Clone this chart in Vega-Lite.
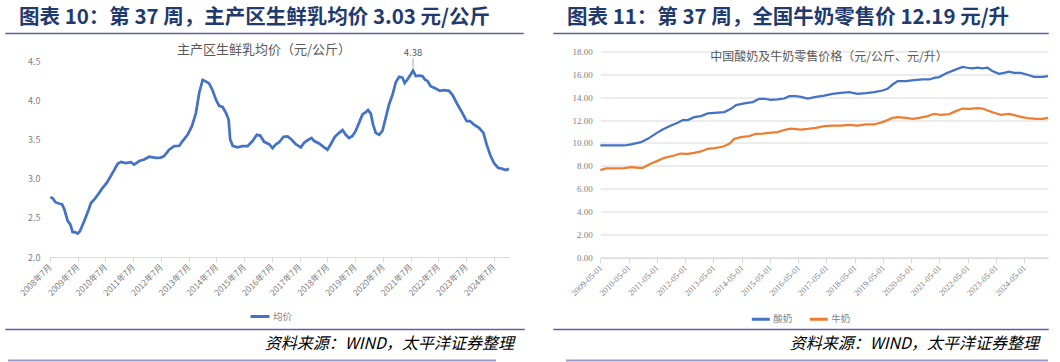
{
  "$schema": "https://vega.github.io/schema/vega-lite/v6.json",
  "padding": {"left": 5, "top": 6.5, "right": 0, "bottom": 0},
  "background": "white",
  "config": {
    "view": {"stroke": null},
    "font": "Noto Sans CJK SC",
    "axis": {"labelFont": "Noto Sans CJK SC", "labelColor": "#808080", "domainColor": "#D9D9D9", "tickColor": "#D9D9D9", "gridColor": "#D9D9D9", "title": null, "labelOverlap": false},
    "legend": {"labelFont": "Noto Sans CJK SC", "labelColor": "#7F7F7F", "labelFontSize": 9.5, "title": null}
  },
  "datasets": {
    "empty": [],
    "milk": [
      {"date": "2008-07-05", "price": 2.765}, {"date": "2008-08-06", "price": 2.75}, {"date": "2008-09-10", "price": 2.70},
      {"date": "2008-11-01", "price": 2.68}, {"date": "2008-12-06", "price": 2.675}, {"date": "2009-01-06", "price": 2.61},
      {"date": "2009-02-20", "price": 2.46}, {"date": "2009-03-24", "price": 2.42}, {"date": "2009-04-25", "price": 2.32},
      {"date": "2009-05-25", "price": 2.32}, {"date": "2009-06-30", "price": 2.30}, {"date": "2009-07-30", "price": 2.33},
      {"date": "2009-09-25", "price": 2.46}, {"date": "2009-11-17", "price": 2.59}, {"date": "2009-12-22", "price": 2.69},
      {"date": "2010-02-05", "price": 2.735}, {"date": "2010-03-19", "price": 2.79}, {"date": "2010-05-15", "price": 2.87},
      {"date": "2010-07-20", "price": 2.95}, {"date": "2010-10-04", "price": 3.075}, {"date": "2010-12-09", "price": 3.19},
      {"date": "2011-01-22", "price": 3.215}, {"date": "2011-03-27", "price": 3.20}, {"date": "2011-06-01", "price": 3.21},
      {"date": "2011-07-14", "price": 3.18}, {"date": "2011-09-19", "price": 3.225}, {"date": "2011-11-24", "price": 3.245},
      {"date": "2012-01-29", "price": 3.28}, {"date": "2012-04-26", "price": 3.265}, {"date": "2012-07-01", "price": 3.27},
      {"date": "2012-08-13", "price": 3.29}, {"date": "2012-10-18", "price": 3.37}, {"date": "2012-12-23", "price": 3.415},
      {"date": "2013-02-28", "price": 3.42}, {"date": "2013-04-12", "price": 3.48}, {"date": "2013-06-17", "price": 3.56},
      {"date": "2013-08-13", "price": 3.67}, {"date": "2013-10-05", "price": 3.84}, {"date": "2013-11-18", "price": 4.10},
      {"date": "2014-01-02", "price": 4.26}, {"date": "2014-02-05", "price": 4.245}, {"date": "2014-03-27", "price": 4.215},
      {"date": "2014-05-11", "price": 4.13}, {"date": "2014-06-24", "price": 4.01}, {"date": "2014-08-07", "price": 3.93},
      {"date": "2014-09-21", "price": 3.915}, {"date": "2014-11-04", "price": 3.84}, {"date": "2014-12-09", "price": 3.755},
      {"date": "2014-12-30", "price": 3.50}, {"date": "2015-02-01", "price": 3.42}, {"date": "2015-04-06", "price": 3.40},
      {"date": "2015-06-11", "price": 3.415}, {"date": "2015-08-16", "price": 3.415}, {"date": "2015-10-20", "price": 3.48},
      {"date": "2015-12-16", "price": 3.56}, {"date": "2016-01-29", "price": 3.55}, {"date": "2016-03-21", "price": 3.47},
      {"date": "2016-05-26", "price": 3.44}, {"date": "2016-07-10", "price": 3.39}, {"date": "2016-08-23", "price": 3.44},
      {"date": "2016-10-05", "price": 3.465}, {"date": "2016-12-02", "price": 3.535}, {"date": "2017-01-24", "price": 3.54},
      {"date": "2017-03-16", "price": 3.50}, {"date": "2017-05-12", "price": 3.44}, {"date": "2017-07-17", "price": 3.40},
      {"date": "2017-08-30", "price": 3.46}, {"date": "2017-10-14", "price": 3.49}, {"date": "2017-12-06", "price": 3.52},
      {"date": "2018-01-10", "price": 3.48}, {"date": "2018-03-15", "price": 3.45}, {"date": "2018-05-12", "price": 3.405},
      {"date": "2018-07-03", "price": 3.37}, {"date": "2018-08-16", "price": 3.44}, {"date": "2018-10-08", "price": 3.535},
      {"date": "2018-12-04", "price": 3.585}, {"date": "2019-01-18", "price": 3.62}, {"date": "2019-03-01", "price": 3.56},
      {"date": "2019-04-13", "price": 3.52}, {"date": "2019-05-28", "price": 3.545}, {"date": "2019-07-10", "price": 3.61},
      {"date": "2019-08-23", "price": 3.71}, {"date": "2019-10-07", "price": 3.82}, {"date": "2019-11-20", "price": 3.85},
      {"date": "2019-12-20", "price": 3.875}, {"date": "2020-01-25", "price": 3.83}, {"date": "2020-02-24", "price": 3.69},
      {"date": "2020-03-30", "price": 3.585}, {"date": "2020-05-12", "price": 3.56}, {"date": "2020-06-26", "price": 3.61},
      {"date": "2020-08-09", "price": 3.78}, {"date": "2020-09-22", "price": 3.95}, {"date": "2020-11-06", "price": 4.07},
      {"date": "2020-12-19", "price": 4.23}, {"date": "2021-02-01", "price": 4.30}, {"date": "2021-03-16", "price": 4.29},
      {"date": "2021-04-15", "price": 4.22}, {"date": "2021-05-21", "price": 4.265}, {"date": "2021-07-03", "price": 4.33},
      {"date": "2021-08-03", "price": 4.38}, {"date": "2021-09-08", "price": 4.31}, {"date": "2021-10-21", "price": 4.315},
      {"date": "2021-12-05", "price": 4.31}, {"date": "2022-01-05", "price": 4.265}, {"date": "2022-02-10", "price": 4.245},
      {"date": "2022-03-23", "price": 4.18}, {"date": "2022-05-28", "price": 4.15}, {"date": "2022-07-24", "price": 4.12},
      {"date": "2022-09-15", "price": 4.13}, {"date": "2022-11-20", "price": 4.12}, {"date": "2023-01-04", "price": 4.07},
      {"date": "2023-03-10", "price": 3.95}, {"date": "2023-05-14", "price": 3.84}, {"date": "2023-07-10", "price": 3.735},
      {"date": "2023-08-23", "price": 3.735}, {"date": "2023-10-15", "price": 3.69}, {"date": "2023-12-20", "price": 3.65},
      {"date": "2024-02-16", "price": 3.585}, {"date": "2024-03-30", "price": 3.435}, {"date": "2024-05-21", "price": 3.29},
      {"date": "2024-07-04", "price": 3.20}, {"date": "2024-08-26", "price": 3.14}, {"date": "2024-10-23", "price": 3.125},
      {"date": "2024-12-06", "price": 3.11}, {"date": "2025-01-18", "price": 3.125}
    ],
    "retail": [
      {"date": "2009-05-01", "kind": "酸奶", "price": 9.78}, {"date": "2009-09-17", "kind": "酸奶", "price": 9.78},
      {"date": "2010-03-07", "kind": "酸奶", "price": 9.78}, {"date": "2010-06-02", "kind": "酸奶", "price": 9.87},
      {"date": "2010-10-09", "kind": "酸奶", "price": 10.07}, {"date": "2011-01-04", "kind": "酸奶", "price": 10.36},
      {"date": "2011-05-03", "kind": "酸奶", "price": 10.88}, {"date": "2011-07-16", "kind": "酸奶", "price": 11.17},
      {"date": "2011-11-01", "kind": "酸奶", "price": 11.52}, {"date": "2012-01-27", "kind": "酸奶", "price": 11.76},
      {"date": "2012-03-31", "kind": "酸奶", "price": 11.99}, {"date": "2012-06-04", "kind": "酸奶", "price": 11.99},
      {"date": "2012-08-28", "kind": "酸奶", "price": 12.25}, {"date": "2012-11-23", "kind": "酸奶", "price": 12.34},
      {"date": "2013-02-18", "kind": "酸奶", "price": 12.57}, {"date": "2013-05-13", "kind": "酸奶", "price": 12.63},
      {"date": "2013-09-20", "kind": "酸奶", "price": 12.69}, {"date": "2013-12-16", "kind": "酸奶", "price": 12.97},
      {"date": "2014-02-19", "kind": "酸奶", "price": 13.30}, {"date": "2014-06-05", "kind": "酸奶", "price": 13.44},
      {"date": "2014-09-22", "kind": "酸奶", "price": 13.56}, {"date": "2014-12-16", "kind": "酸奶", "price": 13.85},
      {"date": "2015-02-19", "kind": "酸奶", "price": 13.85}, {"date": "2015-05-15", "kind": "酸奶", "price": 13.76},
      {"date": "2015-08-10", "kind": "酸奶", "price": 13.79}, {"date": "2015-11-04", "kind": "酸奶", "price": 13.87},
      {"date": "2016-01-08", "kind": "酸奶", "price": 14.08}, {"date": "2016-04-03", "kind": "酸奶", "price": 14.08},
      {"date": "2016-06-07", "kind": "酸奶", "price": 14.02}, {"date": "2016-09-02", "kind": "酸奶", "price": 13.87},
      {"date": "2016-12-18", "kind": "酸奶", "price": 14.02}, {"date": "2017-04-04", "kind": "酸奶", "price": 14.13},
      {"date": "2017-07-21", "kind": "酸奶", "price": 14.28}, {"date": "2017-11-06", "kind": "酸奶", "price": 14.37},
      {"date": "2018-02-22", "kind": "酸奶", "price": 14.43}, {"date": "2018-06-09", "kind": "酸奶", "price": 14.28},
      {"date": "2018-09-25", "kind": "酸奶", "price": 14.34}, {"date": "2019-01-10", "kind": "酸奶", "price": 14.43},
      {"date": "2019-04-27", "kind": "酸奶", "price": 14.57}, {"date": "2019-07-01", "kind": "酸奶", "price": 14.72},
      {"date": "2019-09-05", "kind": "酸奶", "price": 15.09}, {"date": "2019-11-09", "kind": "酸奶", "price": 15.39},
      {"date": "2020-02-24", "kind": "酸奶", "price": 15.39}, {"date": "2020-06-10", "kind": "酸奶", "price": 15.47},
      {"date": "2020-09-27", "kind": "酸奶", "price": 15.53}, {"date": "2020-12-21", "kind": "酸奶", "price": 15.53},
      {"date": "2021-02-24", "kind": "酸奶", "price": 15.67}, {"date": "2021-04-29", "kind": "酸奶", "price": 15.74},
      {"date": "2021-07-24", "kind": "酸奶", "price": 16.05}, {"date": "2021-11-09", "kind": "酸奶", "price": 16.34},
      {"date": "2022-02-26", "kind": "酸奶", "price": 16.63}, {"date": "2022-05-01", "kind": "酸奶", "price": 16.55},
      {"date": "2022-07-04", "kind": "酸奶", "price": 16.49}, {"date": "2022-09-07", "kind": "酸奶", "price": 16.57},
      {"date": "2022-11-11", "kind": "酸奶", "price": 16.49}, {"date": "2023-01-15", "kind": "酸奶", "price": 16.55},
      {"date": "2023-03-18", "kind": "酸奶", "price": 16.26}, {"date": "2023-06-12", "kind": "酸奶", "price": 16.02},
      {"date": "2023-08-16", "kind": "酸奶", "price": 16.11}, {"date": "2023-10-20", "kind": "酸奶", "price": 16.20},
      {"date": "2023-12-23", "kind": "酸奶", "price": 16.11}, {"date": "2024-03-19", "kind": "酸奶", "price": 16.11},
      {"date": "2024-06-14", "kind": "酸奶", "price": 15.94}, {"date": "2024-09-08", "kind": "酸奶", "price": 15.76},
      {"date": "2024-12-25", "kind": "酸奶", "price": 15.76}, {"date": "2025-03-06", "kind": "酸奶", "price": 15.82},
      {"date": "2009-05-01", "kind": "牛奶", "price": 7.64}, {"date": "2009-07-14", "kind": "牛奶", "price": 7.78},
      {"date": "2009-10-29", "kind": "牛奶", "price": 7.78}, {"date": "2010-03-07", "kind": "牛奶", "price": 7.81},
      {"date": "2010-06-02", "kind": "牛奶", "price": 7.90}, {"date": "2010-09-18", "kind": "牛奶", "price": 7.84},
      {"date": "2010-11-01", "kind": "牛奶", "price": 7.84}, {"date": "2011-02-16", "kind": "牛奶", "price": 8.21},
      {"date": "2011-05-03", "kind": "牛奶", "price": 8.42}, {"date": "2011-08-06", "kind": "牛奶", "price": 8.71},
      {"date": "2011-12-13", "kind": "牛奶", "price": 8.91}, {"date": "2012-02-29", "kind": "牛奶", "price": 9.08},
      {"date": "2012-06-04", "kind": "牛奶", "price": 9.06}, {"date": "2012-08-28", "kind": "牛奶", "price": 9.14},
      {"date": "2012-11-23", "kind": "牛奶", "price": 9.26}, {"date": "2013-02-18", "kind": "牛奶", "price": 9.49},
      {"date": "2013-05-13", "kind": "牛奶", "price": 9.55}, {"date": "2013-08-30", "kind": "牛奶", "price": 9.67},
      {"date": "2013-11-24", "kind": "牛奶", "price": 9.93}, {"date": "2014-01-27", "kind": "牛奶", "price": 10.36},
      {"date": "2014-04-23", "kind": "牛奶", "price": 10.51}, {"date": "2014-08-08", "kind": "牛奶", "price": 10.60},
      {"date": "2014-11-04", "kind": "牛奶", "price": 10.80}, {"date": "2015-01-29", "kind": "牛奶", "price": 10.82},
      {"date": "2015-04-23", "kind": "牛奶", "price": 10.88}, {"date": "2015-08-10", "kind": "牛奶", "price": 10.95},
      {"date": "2015-11-26", "kind": "牛奶", "price": 11.17}, {"date": "2016-01-30", "kind": "牛奶", "price": 11.24},
      {"date": "2016-06-07", "kind": "牛奶", "price": 11.17}, {"date": "2016-09-02", "kind": "牛奶", "price": 11.23},
      {"date": "2016-12-18", "kind": "牛奶", "price": 11.32}, {"date": "2017-04-04", "kind": "牛奶", "price": 11.47},
      {"date": "2017-07-21", "kind": "牛奶", "price": 11.52}, {"date": "2017-11-06", "kind": "牛奶", "price": 11.52},
      {"date": "2018-02-22", "kind": "牛奶", "price": 11.58}, {"date": "2018-06-09", "kind": "牛奶", "price": 11.52},
      {"date": "2018-09-25", "kind": "牛奶", "price": 11.61}, {"date": "2019-01-10", "kind": "牛奶", "price": 11.61},
      {"date": "2019-04-27", "kind": "牛奶", "price": 11.82}, {"date": "2019-07-01", "kind": "牛奶", "price": 11.99},
      {"date": "2019-09-05", "kind": "牛奶", "price": 12.19}, {"date": "2019-11-09", "kind": "牛奶", "price": 12.25},
      {"date": "2020-02-24", "kind": "牛奶", "price": 12.19}, {"date": "2020-05-20", "kind": "牛奶", "price": 12.10},
      {"date": "2020-08-14", "kind": "牛奶", "price": 12.19}, {"date": "2020-11-30", "kind": "牛奶", "price": 12.34},
      {"date": "2021-02-24", "kind": "牛奶", "price": 12.54}, {"date": "2021-05-20", "kind": "牛奶", "price": 12.45},
      {"date": "2021-09-05", "kind": "牛奶", "price": 12.51}, {"date": "2021-12-01", "kind": "牛奶", "price": 12.77},
      {"date": "2022-02-26", "kind": "牛奶", "price": 13.00}, {"date": "2022-05-20", "kind": "牛奶", "price": 12.97},
      {"date": "2022-09-07", "kind": "牛奶", "price": 13.04}, {"date": "2022-11-11", "kind": "牛奶", "price": 13.00},
      {"date": "2023-01-15", "kind": "牛奶", "price": 12.83}, {"date": "2023-04-08", "kind": "牛奶", "price": 12.63},
      {"date": "2023-07-04", "kind": "牛奶", "price": 12.45}, {"date": "2023-10-20", "kind": "牛奶", "price": 12.54},
      {"date": "2023-12-23", "kind": "牛奶", "price": 12.43}, {"date": "2024-03-19", "kind": "牛奶", "price": 12.28},
      {"date": "2024-06-14", "kind": "牛奶", "price": 12.17}, {"date": "2024-09-30", "kind": "牛奶", "price": 12.10},
      {"date": "2024-12-25", "kind": "牛奶", "price": 12.10}, {"date": "2025-03-06", "kind": "牛奶", "price": 12.19}
    ]
  },
  "columns": 2,
  "spacing": {"row": 0, "column": 30},
  "bounds": "flush",
  "align": "each",
  "resolve": {
    "scale": {"x": "independent", "y": "independent", "color": "independent"},
    "axis": {"x": "independent", "y": "independent"},
    "legend": {"color": "independent"}
  },
  "concat": [
    {"width": 517, "height": 0.01, "data": {"name": "empty"}, "mark": "text",
     "view": {"stroke": "#5F5F9F", "strokeWidth": 1.5},
     "title": {"text": "图表 10：第 37 周，主产区生鲜乳均价 3.03 元/公斤", "orient": "top", "anchor": "start", "frame": "group", "offset": -10.5, "baseline": "alphabetic", "dx": 13, "fontSize": 20.5, "fontWeight": "bold", "color": "#1F3A6E", "font": "Noto Sans CJK SC"}},
    {"width": 494, "height": 0.01, "data": {"name": "empty"}, "mark": "text",
     "view": {"stroke": "#5F5F9F", "strokeWidth": 1.5},
     "title": {"text": "图表 11：第 37 周，全国牛奶零售价 12.19 元/升", "orient": "top", "anchor": "start", "frame": "group", "offset": -10.5, "baseline": "alphabetic", "dx": 13, "fontSize": 20.5, "fontWeight": "bold", "color": "#1F3A6E", "font": "Noto Sans CJK SC"}},

    {"width": 518, "height": 222.6,
     "data": {"name": "milk"},
     "title": {"text": "主产区生鲜乳均价（元/公斤）", "orient": "top", "anchor": "middle", "frame": "group", "offset": -32.3, "baseline": "alphabetic", "dx": -1, "fontSize": 13, "fontWeight": "normal", "color": "#595959", "font": "Noto Sans CJK SC"},
     "encoding": {
       "x": {"field": "date", "type": "temporal",
             "scale": {"type": "utc", "range": [44, 503], "domain": [{"year": 2008, "month": 7, "date": 1, "utc": true}, {"year": 2025, "month": 1, "date": 18, "utc": true}]},
             "axis": {"values": [
               {"year": 2008, "month": 7, "date": 1, "utc": true}, {"year": 2009, "month": 7, "date": 1, "utc": true},
               {"year": 2010, "month": 7, "date": 1, "utc": true}, {"year": 2011, "month": 7, "date": 1, "utc": true},
               {"year": 2012, "month": 7, "date": 1, "utc": true}, {"year": 2013, "month": 7, "date": 1, "utc": true},
               {"year": 2014, "month": 7, "date": 1, "utc": true}, {"year": 2015, "month": 7, "date": 1, "utc": true},
               {"year": 2016, "month": 7, "date": 1, "utc": true}, {"year": 2017, "month": 7, "date": 1, "utc": true},
               {"year": 2018, "month": 7, "date": 1, "utc": true}, {"year": 2019, "month": 7, "date": 1, "utc": true},
               {"year": 2020, "month": 7, "date": 1, "utc": true}, {"year": 2021, "month": 7, "date": 1, "utc": true},
               {"year": 2022, "month": 7, "date": 1, "utc": true}, {"year": 2023, "month": 7, "date": 1, "utc": true},
               {"year": 2024, "month": 7, "date": 1, "utc": true}],
               "labelExpr": "utcFormat(datum.value, '%Y年%-m月')",
               "labelAngle": -45, "labelAlign": "right", "labelBaseline": "middle", "labelPadding": 3,
               "labelFontSize": 8.5, "tickSize": 5, "grid": false, "labelOverlap": false, "labelFlush": false, "labelBound": false}},
       "y": {"field": "price", "type": "quantitative", "scale": {"domain": [2, 4.5], "range": [222.6, 26.6]},
             "axis": {"values": [2, 2.5, 3, 3.5, 4, 4.5], "format": ".1f", "domain": false, "ticks": false, "grid": false, "offset": -44, "labelPadding": 10, "labelFontSize": 9, "labelOverlap": false}}
     },
     "layer": [
       {"mark": {"type": "line", "strokeWidth": 2.75},
        "encoding": {
          "color": {"datum": "均价", "type": "nominal", "scale": {"domain": ["均价"], "range": ["#4472C4"]},
                    "legend": {"orient": "none", "legendX": 243, "legendY": 271, "direction": "horizontal", "symbolType": "stroke", "symbolSize": 361, "symbolStrokeWidth": 3, "labelOffset": 2}}
        }},
       {"transform": [{"filter": "datum.price >= 4.38"}],
        "mark": {"type": "rule", "color": "#A6A6A6", "strokeWidth": 1, "yOffset": -3, "y2Offset": -12},
        "encoding": {"y2": {"field": "price"}}},
       {"transform": [{"filter": "datum.price >= 4.38"}],
        "mark": {"type": "text", "dy": -18, "fontSize": 9.5, "color": "#595959", "baseline": "middle"},
        "encoding": {"text": {"field": "price", "format": ".2f"}}}
     ]},
    {"width": 494, "height": 223.3,
     "data": {"name": "retail"},
     "title": {"text": "中国酸奶及牛奶零售价格（元/公斤、元/升）", "orient": "top", "anchor": "middle", "frame": "group", "offset": -38.3, "baseline": "alphabetic", "dx": 28, "fontSize": 12, "fontWeight": "normal", "color": "#595959", "font": "Noto Sans CJK SC"},
     "mark": {"type": "line", "strokeWidth": 2.25},
     "encoding": {
       "x": {"field": "date", "type": "temporal",
             "scale": {"type": "utc", "range": [46.3, 494], "domain": [{"year": 2009, "month": 5, "date": 1, "utc": true}, {"year": 2025, "month": 3, "date": 6, "utc": true}]},
             "axis": {"values": [
               {"year": 2009, "month": 5, "date": 1, "utc": true}, {"year": 2010, "month": 5, "date": 1, "utc": true},
               {"year": 2011, "month": 5, "date": 1, "utc": true}, {"year": 2012, "month": 5, "date": 1, "utc": true},
               {"year": 2013, "month": 5, "date": 1, "utc": true}, {"year": 2014, "month": 5, "date": 1, "utc": true},
               {"year": 2015, "month": 5, "date": 1, "utc": true}, {"year": 2016, "month": 5, "date": 1, "utc": true},
               {"year": 2017, "month": 5, "date": 1, "utc": true}, {"year": 2018, "month": 5, "date": 1, "utc": true},
               {"year": 2019, "month": 5, "date": 1, "utc": true}, {"year": 2020, "month": 5, "date": 1, "utc": true},
               {"year": 2021, "month": 5, "date": 1, "utc": true}, {"year": 2022, "month": 5, "date": 1, "utc": true},
               {"year": 2023, "month": 5, "date": 1, "utc": true}, {"year": 2024, "month": 5, "date": 1, "utc": true}],
               "labelExpr": "utcFormat(datum.value, '%Y-%m-%d')",
               "labelFont": "Liberation Serif",
               "labelAngle": -45, "labelAlign": "right", "labelBaseline": "middle", "labelPadding": 3,
               "labelFontSize": 8.5, "tickSize": 5, "grid": false, "labelOverlap": false, "labelFlush": false, "labelBound": false}},
       "y": {"field": "price", "type": "quantitative", "scale": {"domain": [0, 18], "range": [223.3, 16.6]},
             "axis": {"values": [0, 2, 4, 6, 8, 10, 12, 14, 16, 18], "format": ".2f", "labelFont": "Liberation Serif", "domain": false, "ticks": false, "grid": true, "offset": -46.3, "labelPadding": 8, "labelFontSize": 9}},
       "color": {"field": "kind", "type": "nominal", "scale": {"domain": ["酸奶", "牛奶"], "range": ["#4472C4", "#ED7D31"]},
                 "legend": {"orient": "none", "legendX": 196.3, "legendY": 274, "direction": "horizontal", "symbolType": "stroke", "symbolSize": 324, "symbolStrokeWidth": 3, "labelOffset": 2, "columnPadding": 10}}
     }},

    {"width": 1, "height": 71, "data": {"name": "empty"}, "mark": "text"},
    {"width": 1, "height": 71, "data": {"name": "empty"}, "mark": "text"},

    {"width": 518, "height": 0.01, "data": {"name": "empty"}, "mark": "text",
     "view": {"stroke": "#5F5F9F", "strokeWidth": 1.5},
     "title": {"text": "资料来源：WIND，太平洋证券整理", "orient": "bottom", "anchor": "end", "frame": "group", "offset": 19, "baseline": "alphabetic", "dx": -10, "fontSize": 16, "fontStyle": "italic", "fontWeight": "normal", "color": "#000000", "font": "Noto Sans CJK SC"}},
    {"width": 494, "height": 0.01, "data": {"name": "empty"}, "mark": "text",
     "view": {"stroke": "#5F5F9F", "strokeWidth": 1.5},
     "title": {"text": "资料来源：WIND，太平洋证券整理", "orient": "bottom", "anchor": "end", "frame": "group", "offset": 19, "baseline": "alphabetic", "dx": -9, "fontSize": 16, "fontStyle": "italic", "fontWeight": "normal", "color": "#000000", "font": "Noto Sans CJK SC"}},

    {"width": 1, "height": 29.7, "data": {"name": "empty"}, "mark": "text"},
    {"width": 1, "height": 29.7, "data": {"name": "empty"}, "mark": "text"},

    {"width": 490, "height": 0.01, "data": {"name": "empty"}, "mark": "text",
     "view": {"stroke": "#9C9CC4", "strokeWidth": 2, "strokeDash": [0, 2, 488, 10000]}},
    {"width": 494, "height": 0.01, "data": {"name": "empty"}, "mark": "text",
     "view": {"stroke": "#9C9CC4", "strokeWidth": 2, "strokeDash": [0, 12, 482, 10000]}}
  ]
}
